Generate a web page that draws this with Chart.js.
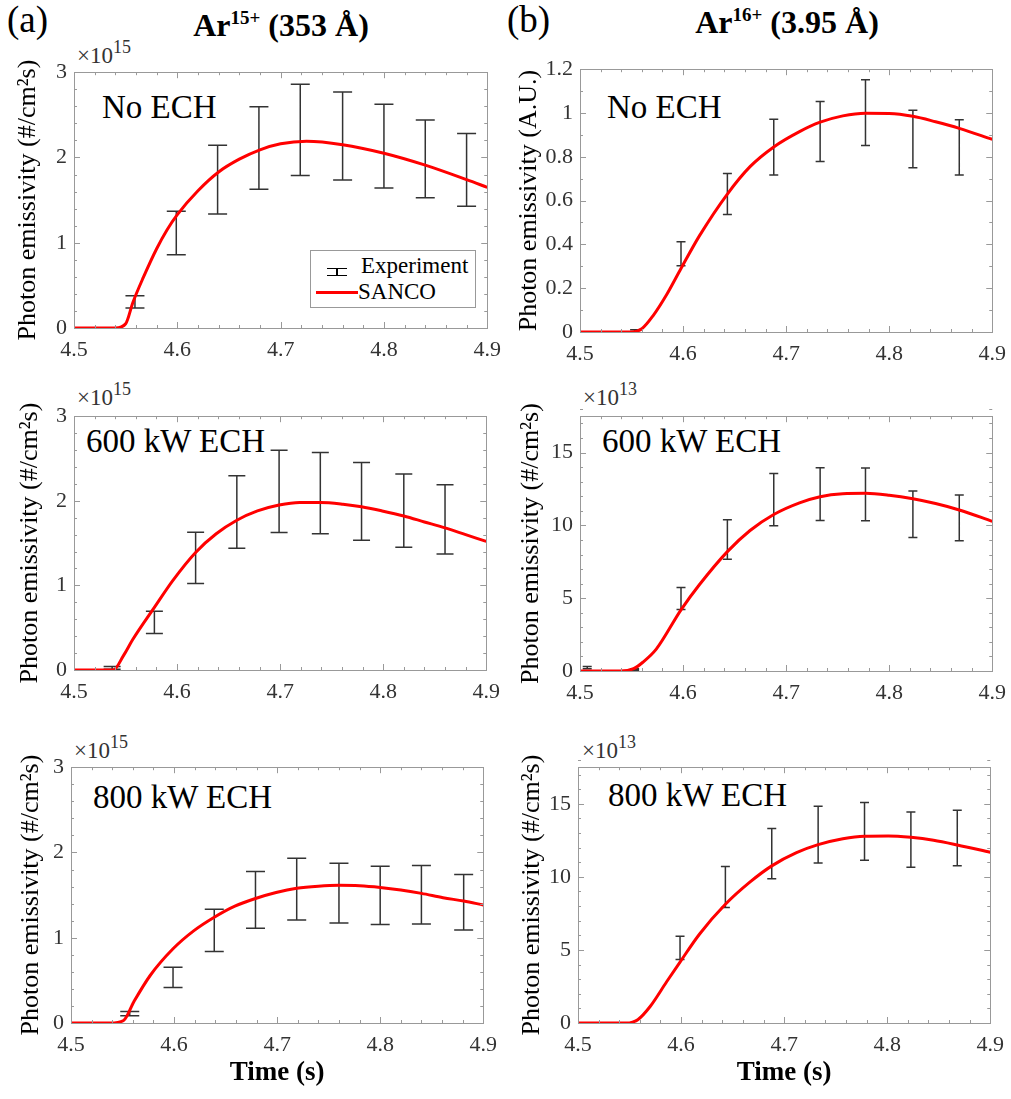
<!DOCTYPE html>
<html>
<head>
<meta charset="utf-8">
<script src="https://cdn.jsdelivr.net/npm/chart.js@4.4.0/dist/chart.umd.min.js"></script>
<style>
body{margin:0;background:#fff;width:1011px;height:1099px;position:relative;overflow:hidden;font-family:"Liberation Serif","Times New Roman",serif;color:#000}
.lab{position:absolute;white-space:nowrap;line-height:1}
.up{position:relative}
.wrap{position:absolute}
</style>
</head>
<body>
<div class="lab" style="left:7px;top:1px;font-size:37px">(a)</div>
<div class="lab" style="left:507px;top:1px;font-size:37px">(b)</div>
<div class="lab" style="left:281px;top:9px;font-size:32px;font-weight:bold;transform:translateX(-50%)">Ar<span class="up" style="font-size:19px;top:-12px">15+</span> (353 Å)</div>
<div class="lab" style="left:787px;top:6px;font-size:32px;font-weight:bold;transform:translateX(-50%)">Ar<span class="up" style="font-size:19px;top:-12px">16+</span> (3.95 Å)</div>

<div class="lab" style="left:77px;top:44px;font-size:23px;color:#333">×10<span class="up" style="font-size:18px;top:-10px">15</span></div>
<div class="lab" style="left:77px;top:386px;font-size:23px;color:#333">×10<span class="up" style="font-size:18px;top:-10px">15</span></div>
<div class="lab" style="left:583px;top:386px;font-size:23px;color:#333">×10<span class="up" style="font-size:18px;top:-10px">13</span></div>
<div class="lab" style="left:74px;top:739px;font-size:23px;color:#333">×10<span class="up" style="font-size:18px;top:-10px">15</span></div>
<div class="lab" style="left:582px;top:739px;font-size:23px;color:#333">×10<span class="up" style="font-size:18px;top:-10px">13</span></div>

<div class="lab" style="left:102px;top:91px;font-size:33px">No ECH</div>
<div class="lab" style="left:607px;top:91px;font-size:33px">No ECH</div>
<div class="lab" style="left:86px;top:425px;font-size:33px">600 kW ECH</div>
<div class="lab" style="left:602px;top:425px;font-size:33px">600 kW ECH</div>
<div class="lab" style="left:93px;top:781px;font-size:33px">800 kW ECH</div>
<div class="lab" style="left:608px;top:779px;font-size:33px">800 kW ECH</div>

<div id="charts"></div>

<div style="position:absolute;left:310px;top:250px;width:164px;height:56px;border:1px solid #999;background:#fff;z-index:2"></div>
<div style="position:absolute;left:327px;top:268px;width:20px;height:6px;border-top:1.5px solid #000;border-bottom:1.5px solid #000;z-index:3"></div>
<div style="position:absolute;left:336px;top:268px;width:1.5px;height:8px;background:#000;z-index:3"></div>
<div style="position:absolute;left:316px;top:291px;width:42px;height:3px;background:#ff0000;z-index:3"></div>
<div class="lab" style="left:361px;top:254px;font-size:23px;z-index:3">Experiment</div>
<div class="lab" style="left:358px;top:280px;font-size:23px;z-index:3">SANCO</div>

<script>
// shared axes
const xTicks = [4.5, 4.6, 4.7, 4.8, 4.9];
const yTicksA = [0, 1, 2, 3];
const yTicksB1 = [0, 0.2, 0.4, 0.6, 0.8, 1, 1.2];
const yTicksB2 = [0, 5, 10, 15];

// (a) Ar15+, No ECH
const a1ExpT  = [4.559, 4.599, 4.639, 4.679, 4.719, 4.760, 4.800, 4.840, 4.880];
const a1ExpLo = [0.235, 0.858, 1.338, 1.627, 1.788, 1.735, 1.642, 1.527, 1.427];
const a1ExpHi = [0.377, 1.369, 2.142, 2.596, 2.858, 2.769, 2.623, 2.438, 2.281];
const a1SimT  = [4.5, 4.54, 4.55, 4.557, 4.567, 4.58, 4.59, 4.6, 4.62, 4.64, 4.66, 4.68, 4.70, 4.725, 4.76, 4.80, 4.84, 4.88, 4.9];
const a1SimY  = [0, 0, 0.05, 0.3, 0.59, 0.93, 1.15, 1.33, 1.61, 1.83, 1.98, 2.09, 2.16, 2.19, 2.15, 2.05, 1.91, 1.74, 1.65];

// (a) Ar15+, 600 kW ECH
const a2ExpT  = [4.537, 4.578, 4.618, 4.658, 4.699, 4.739, 4.779, 4.820, 4.860];
const a2ExpLo = [0.01, 0.432, 1.023, 1.440, 1.625, 1.610, 1.533, 1.452, 1.371];
const a2ExpHi = [0.04, 0.695, 1.629, 2.297, 2.598, 2.571, 2.452, 2.317, 2.189];
const a2SimT  = [4.5, 4.538, 4.548, 4.557, 4.578, 4.596, 4.618, 4.638, 4.658, 4.678, 4.699, 4.719, 4.739, 4.761, 4.779, 4.799, 4.82, 4.84, 4.86, 4.88, 4.9];
const a2SimY  = [0, 0, 0.17, 0.36, 0.74, 1.06, 1.39, 1.61, 1.77, 1.88, 1.95, 1.98, 1.98, 1.96, 1.93, 1.88, 1.82, 1.75, 1.68, 1.60, 1.52];

// (a) Ar15+, 800 kW ECH
const a3ExpT  = [4.557, 4.599, 4.639, 4.679, 4.719, 4.760, 4.800, 4.840, 4.881];
const a3ExpLo = [0.085, 0.415, 0.838, 1.112, 1.208, 1.173, 1.154, 1.162, 1.092];
const a3ExpHi = [0.135, 0.654, 1.335, 1.777, 1.931, 1.873, 1.838, 1.846, 1.742];
const a3SimT  = [4.5, 4.538, 4.551, 4.561, 4.577, 4.599, 4.619, 4.639, 4.659, 4.679, 4.699, 4.719, 4.74, 4.76, 4.78, 4.80, 4.82, 4.84, 4.861, 4.881, 4.9];
const a3SimY  = [0, 0, 0.03, 0.25, 0.56, 0.87, 1.08, 1.24, 1.37, 1.46, 1.53, 1.58, 1.605, 1.615, 1.61, 1.59, 1.56, 1.52, 1.47, 1.43, 1.385];

// (b) Ar16+, No ECH
const b1ExpT  = [4.553, 4.598, 4.643, 4.688, 4.733, 4.777, 4.823, 4.868];
const b1ExpLo = [0.0, 0.303, 0.537, 0.717, 0.778, 0.852, 0.750, 0.717];
const b1ExpHi = [0.01, 0.412, 0.724, 0.972, 1.053, 1.152, 1.012, 0.969];
const b1SimT  = [4.5, 4.55, 4.56, 4.571, 4.584, 4.598, 4.616, 4.643, 4.665, 4.688, 4.713, 4.733, 4.755, 4.777, 4.80, 4.823, 4.845, 4.868, 4.9];
const b1SimY  = [0, 0, 0.015, 0.075, 0.17, 0.29, 0.44, 0.63, 0.755, 0.845, 0.915, 0.958, 0.987, 0.999, 0.998, 0.985, 0.96, 0.93, 0.88];

// (b) Ar16+, 600 kW ECH
const b2ExpT  = [4.507, 4.553, 4.598, 4.643, 4.688, 4.733, 4.777, 4.823, 4.868];
const b2ExpLo = [0.16, 0.05, 4.23, 7.67, 9.98, 10.34, 10.32, 9.17, 8.95];
const b2ExpHi = [0.31, 0.15, 5.73, 10.39, 13.56, 13.96, 13.94, 12.37, 12.08];
const b2SimT  = [4.5, 4.539, 4.552, 4.561, 4.574, 4.598, 4.616, 4.643, 4.665, 4.688, 4.713, 4.733, 4.755, 4.777, 4.80, 4.823, 4.845, 4.868, 4.9];
const b2SimY  = [0, 0, 0.16, 0.6, 1.5, 4.2, 5.94, 8.2, 9.65, 10.75, 11.55, 11.97, 12.17, 12.2, 12.07, 11.83, 11.5, 11.06, 10.28];

// (b) Ar16+, 800 kW ECH
const b3ExpT  = [4.599, 4.643, 4.688, 4.733, 4.778, 4.823, 4.868];
const b3ExpLo = [4.35, 7.90, 9.86, 10.94, 11.14, 10.65, 10.76];
const b3ExpHi = [5.93, 10.71, 13.31, 14.82, 15.09, 14.44, 14.55];
const b3SimT  = [4.5, 4.547, 4.558, 4.57, 4.586, 4.599, 4.618, 4.643, 4.667, 4.688, 4.712, 4.733, 4.757, 4.778, 4.801, 4.823, 4.845, 4.868, 4.9];
const b3SimY  = [0, 0, 0.23, 1.13, 2.82, 4.17, 6.09, 8.12, 9.65, 10.75, 11.65, 12.2, 12.6, 12.78, 12.8, 12.7, 12.5, 12.18, 11.68];

const SERIF = '"Liberation Serif", "Times New Roman", serif';
const LABEL_A = 'Photon emissivity (#/cm²s)';
const LABEL_AU = 'Photon emissivity (A.U.)';

const panels = [
  {L: 74, R: 488, T: 68, B: 328, t: a1ExpT, lo: a1ExpLo, hi: a1ExpHi, st: a1SimT, sy: a1SimY, yMax: 3, yTicks: yTicksA, yMinor: 0.2, cap: 19, ylabel: LABEL_A, tpad: 13, xTitle: false},
  {L: 74, R: 487, T: 412, B: 670, t: a2ExpT, lo: a2ExpLo, hi: a2ExpHi, st: a2SimT, sy: a2SimY, yMax: 3, yTicks: yTicksA, yMinor: 0.2, cap: 17, ylabel: LABEL_A, tpad: 14.5, xTitle: false},
  {L: 71, R: 484, T: 763, B: 1023, t: a3ExpT, lo: a3ExpLo, hi: a3ExpHi, st: a3SimT, sy: a3SimY, yMax: 3, yTicks: yTicksA, yMinor: 0.2, cap: 19, ylabel: LABEL_A, tpad: 18.5, xTitle: true},
  {L: 580, R: 993, T: 65, B: 332, t: b1ExpT, lo: b1ExpLo, hi: b1ExpHi, st: b1SimT, sy: b1SimY, yMax: 1.2, yTicks: yTicksB1, yMinor: 0.1, cap: 9, ylabel: LABEL_AU, tpad: 7.5, xTitle: false},
  {L: 580, R: 993, T: 412, B: 671, t: b2ExpT, lo: b2ExpLo, hi: b2ExpHi, st: b2SimT, sy: b2SimY, yMax: 17.5, yTicks: yTicksB2, yMinor: 1, cap: 9, ylabel: LABEL_A, tpad: 9.5, xTitle: false},
  {L: 578, R: 991, T: 763, B: 1023, t: b3ExpT, lo: b3ExpLo, hi: b3ExpHi, st: b3SimT, sy: b3SimY, yMax: 17.5, yTicks: yTicksB2, yMinor: 1, cap: 9, ylabel: LABEL_A, tpad: 13, xTitle: true}
];

// error bars under the curve, box + inward ticks on top (matlab style)
const matlabAxes = {
  id: 'matlabAxes',
  beforeDatasetsDraw(chart, args, opts) {
    const p = opts.panel;
    const {ctx, scales: {x, y}} = chart;
    ctx.save();
    ctx.strokeStyle = '#333';
    ctx.lineWidth = 1.5;
    ctx.beginPath();
    p.t.forEach((t, i) => {
      const px = x.getPixelForValue(t);
      const y1 = y.getPixelForValue(p.lo[i]);
      const y2 = y.getPixelForValue(p.hi[i]);
      const c = p.cap / 2;
      ctx.moveTo(px, y1); ctx.lineTo(px, y2);
      ctx.moveTo(px - c, y1); ctx.lineTo(px + c, y1);
      ctx.moveTo(px - c, y2); ctx.lineTo(px + c, y2);
    });
    ctx.stroke();
    ctx.restore();
  },
  afterDatasetsDraw(chart, args, opts) {
    const p = opts.panel;
    const {ctx, chartArea: a, scales: {x, y}} = chart;
    ctx.save();
    ctx.strokeStyle = '#999';
    ctx.lineWidth = 1;
    ctx.beginPath();
    const tick = (v, isX, len) => {
      if (isX) {
        const px = Math.round(x.getPixelForValue(v)) + 0.5;
        ctx.moveTo(px, a.bottom); ctx.lineTo(px, a.bottom - len);
        ctx.moveTo(px, a.top); ctx.lineTo(px, a.top + len);
      } else {
        const py = Math.round(y.getPixelForValue(v)) + 0.5;
        ctx.moveTo(a.left, py); ctx.lineTo(a.left + len, py);
        ctx.moveTo(a.right, py); ctx.lineTo(a.right - len, py);
      }
    };
    for (let k = 0; k <= 20; k++) tick(4.5 + k * 0.02, true, k % 5 ? 3 : 6);
    const nY = Math.round(p.yMax / p.yMinor);
    for (let k = 0; k <= nY; k++) {
      const v = k * p.yMinor;
      const major = p.yTicks.some(m => Math.abs(m - v) < 1e-6);
      tick(v, false, major ? 6 : 3);
    }
    ctx.stroke();
    ctx.strokeRect(Math.round(a.left) + 0.5, Math.round(a.top) + 0.5, Math.round(a.right - a.left), Math.round(a.bottom - a.top));
    ctx.restore();
  }
};

const PADL = 74, PADT = 16, PADR = 22;
const fmt = v => String(Math.round(v * 1000) / 1000);
const holder = document.getElementById('charts');

panels.forEach(p => {
  const xh = p.xTitle ? 75 : 40;
  const w = p.R - p.L + PADL + PADR;
  const h = p.B - p.T + PADT + xh;
  const wrap = document.createElement('div');
  wrap.className = 'wrap';
  wrap.style.left = (p.L - PADL) + 'px';
  wrap.style.top = (p.T - PADT) + 'px';
  const cv = document.createElement('canvas');
  cv.width = w; cv.height = h;
  cv.style.width = w + 'px'; cv.style.height = h + 'px';
  wrap.appendChild(cv);
  holder.appendChild(wrap);

  new Chart(cv.getContext('2d'), {
    type: 'scatter',
    data: {
      datasets: [{
        label: 'SANCO',
        data: p.st.map((t, i) => ({x: t, y: p.sy[i]})),
        showLine: true,
        borderColor: '#ff0000',
        borderWidth: 3,
        pointRadius: 0,
        cubicInterpolationMode: 'monotone'
      }]
    },
    options: {
      responsive: false,
      animation: false,
      devicePixelRatio: 1,
      layout: {padding: {left: 0, top: PADT, right: PADR, bottom: 0}},
      plugins: {legend: {display: false}, tooltip: {enabled: false}, matlabAxes: {panel: p}},
      scales: {
        x: {
          type: 'linear', min: 4.5, max: 4.9,
          afterBuildTicks: s => { s.ticks = xTicks.map(v => ({value: v})); },
          afterFit: s => { s.height = xh; },
          grid: {display: false, drawTicks: false},
          border: {display: false},
          ticks: {padding: 9, color: '#333', font: {family: SERIF, size: 22}, callback: fmt, maxRotation: 0},
          title: {display: p.xTitle, text: 'Time (s)', color: '#000', font: {family: SERIF, size: 27, weight: 'bold'}, padding: {top: 0, bottom: 9}}
        },
        y: {
          type: 'linear', min: 0, max: p.yMax,
          afterBuildTicks: s => { s.ticks = p.yTicks.map(v => ({value: v})); },
          afterFit: s => { s.width = PADL; },
          grid: {display: false, drawTicks: false},
          border: {display: false},
          ticks: {padding: 7, color: '#333', font: {family: SERIF, size: 22}, callback: fmt},
          title: {display: true, text: p.ylabel, color: '#000', font: {family: SERIF, size: 26}, padding: {top: p.tpad, bottom: 0}}
        }
      }
    },
    plugins: [matlabAxes]
  });
});
</script>
</body>
</html>
